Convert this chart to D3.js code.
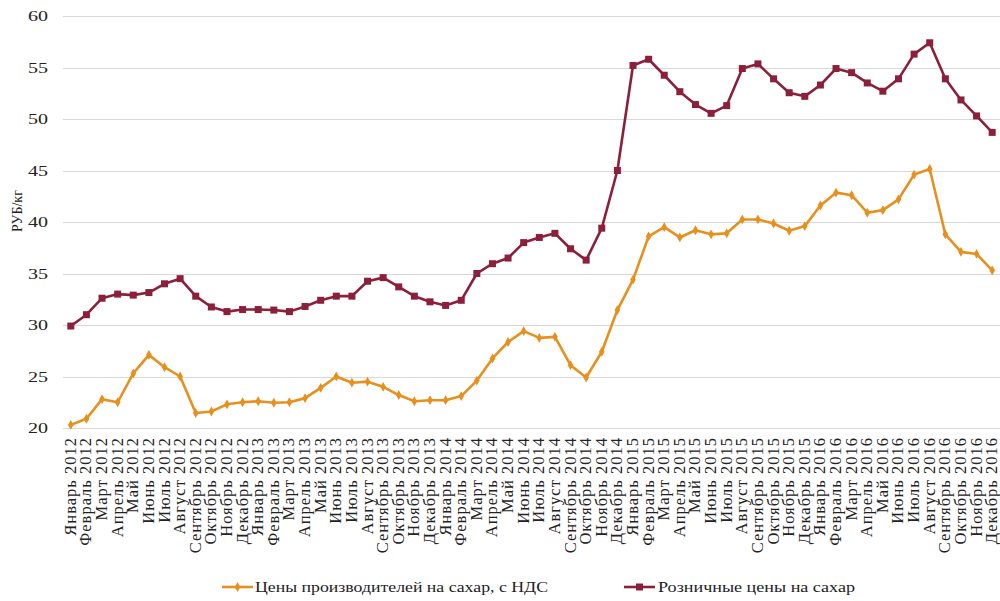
<!DOCTYPE html>
<html><head><meta charset="utf-8">
<script src="https://cdn.jsdelivr.net/npm/d3@7"></script>
<style>body{margin:0;background:#fff}svg{display:block}</style>
</head><body>
<svg id="c" width="1000" height="601"></svg>
<script>
const months = ["Январь","Февраль","Март","Апрель","Май","Июнь","Июль","Август","Сентябрь","Октябрь","Ноябрь","Декабрь"];
const years = [2012, 2013, 2014, 2015, 2016];
const categories = [];
years.forEach(y => months.forEach(m => categories.push(m + " " + y)));

const producerPrices = [
  20.3, 20.9, 22.8, 22.5, 25.3, 27.1, 25.9, 25.0, 21.45, 21.6, 22.3, 22.5,
  22.6, 22.45, 22.5, 22.9, 23.9, 25.0, 24.4, 24.5, 24.0, 23.2, 22.6, 22.7,
  22.7, 23.1, 24.6, 26.75, 28.35, 29.4, 28.75, 28.85, 26.1, 24.9, 27.4, 31.45,
  34.4, 38.6, 39.5, 38.5, 39.2, 38.8, 38.9, 40.25, 40.25, 39.85, 39.15, 39.6,
  41.6, 42.85, 42.6, 40.9, 41.15, 42.2, 44.6, 45.15, 38.8, 37.1, 36.9, 35.3
];
const retailPrices = [
  29.9, 31.0, 32.6, 33.0, 32.9, 33.15, 34.0, 34.5, 32.8, 31.75, 31.3, 31.5,
  31.5, 31.45, 31.3, 31.8, 32.4, 32.8, 32.8, 34.25, 34.6, 33.7, 32.8, 32.25,
  31.9, 32.4, 35.0, 35.95, 36.5, 38.0, 38.5, 38.9, 37.4, 36.3, 39.4, 45.0,
  55.2, 55.8, 54.25, 52.65, 51.4, 50.55, 51.3, 54.9, 55.35, 53.9, 52.55, 52.2,
  53.3, 54.9, 54.5, 53.5, 52.7, 53.9, 56.3, 57.4, 53.9, 51.85, 50.3, 48.7
];
const yTicks = [20, 25, 30, 35, 40, 45, 50, 55, 60];
const seriesNames = ["Цены производителей на сахар, с НДС", "Розничные цены на сахар"];
const seriesColors = ["#E8901E", "#8C1F3C"];

(function () {
const svg = d3.select("#c");
const FONT = "Liberation Serif, Times New Roman, serif";
const mL = 63, mR = 1000, mT = 16, mB = 428;
const x = d3.scaleBand().domain(categories).range([mL, mR]);
const y = d3.scaleLinear().domain([20, 60]).range([mB, mT]);
const cx = (i) => x(categories[i]) + x.bandwidth() / 2;

svg.append("g").selectAll("line").data(yTicks).join("line")
  .attr("x1", mL).attr("x2", mR)
  .attr("y1", d => Math.round(y(d)) + 0.5).attr("y2", d => Math.round(y(d)) + 0.5)
  .attr("stroke", "#d9d9d9").attr("stroke-width", 1);

svg.append("g").selectAll("text").data(yTicks).join("text")
  .attr("x", 48).attr("y", d => y(d) + 5)
  .attr("text-anchor", "end")
  .style("font-family", FONT).attr("font-size", 15).attr("fill", "#222")
  .attr("textLength", 20).attr("lengthAdjust", "spacingAndGlyphs")
  .text(d => d);

svg.append("text")
  .attr("transform", "translate(22,211) rotate(-90)")
  .attr("text-anchor", "middle")
  .style("font-family", FONT).attr("font-size", 14).attr("fill", "#222")
  .text("РУБ/кг");

svg.append("g").selectAll("text").data(categories).join("text")
  .attr("transform", (d, i) => `translate(${cx(i) + 5},437) rotate(-90)`)
  .attr("text-anchor", "end")
  .style("font-family", FONT).attr("font-size", 16.5).attr("fill", "#222")
  .attr("letter-spacing", 1)
  .text(d => d);

const line = d3.line().x((d, i) => cx(i)).y(d => y(d));
[producerPrices, retailPrices].forEach((s, k) => {
  svg.append("path").datum(s).attr("d", line)
    .attr("fill", "none").attr("stroke", seriesColors[k]).attr("stroke-width", 2.6)
    .attr("stroke-linejoin", "round");
});
const sym0 = d3.symbol().type(d3.symbolDiamond).size(28);
svg.append("g").selectAll("path").data(producerPrices).join("path")
  .attr("d", sym0)
  .attr("transform", (d, i) => `translate(${cx(i)},${y(d)})`)
  .attr("fill", seriesColors[0]);
svg.append("g").selectAll("rect").data(retailPrices).join("rect")
  .attr("x", (d, i) => cx(i) - 3.5)
  .attr("y", d => y(d) - 3.5)
  .attr("width", 7).attr("height", 7)
  .attr("fill", seriesColors[1]);

const legendPos = [{lx: 222, tx: 255, w: 293}, {lx: 624, tx: 658, w: 197}];
legendPos.forEach((p, k) => {
  const g = svg.append("g");
  g.append("line").attr("x1", p.lx).attr("x2", p.lx + 31).attr("y1", 587).attr("y2", 587)
    .attr("stroke", seriesColors[k]).attr("stroke-width", 2.6);
  if (k === 0) {
    g.append("path").attr("d", sym0).attr("transform", `translate(${p.lx + 15.5},587)`).attr("fill", seriesColors[0]);
  } else {
    g.append("rect").attr("x", p.lx + 12).attr("y", 583.5).attr("width", 7).attr("height", 7).attr("fill", seriesColors[1]);
  }
  g.append("text").attr("x", p.tx).attr("y", 592)
    .style("font-family", FONT).attr("font-size", 15).attr("fill", "#222")
    .attr("textLength", p.w).attr("lengthAdjust", "spacingAndGlyphs")
    .text(seriesNames[k]);
});
})();
</script>
</body></html>
